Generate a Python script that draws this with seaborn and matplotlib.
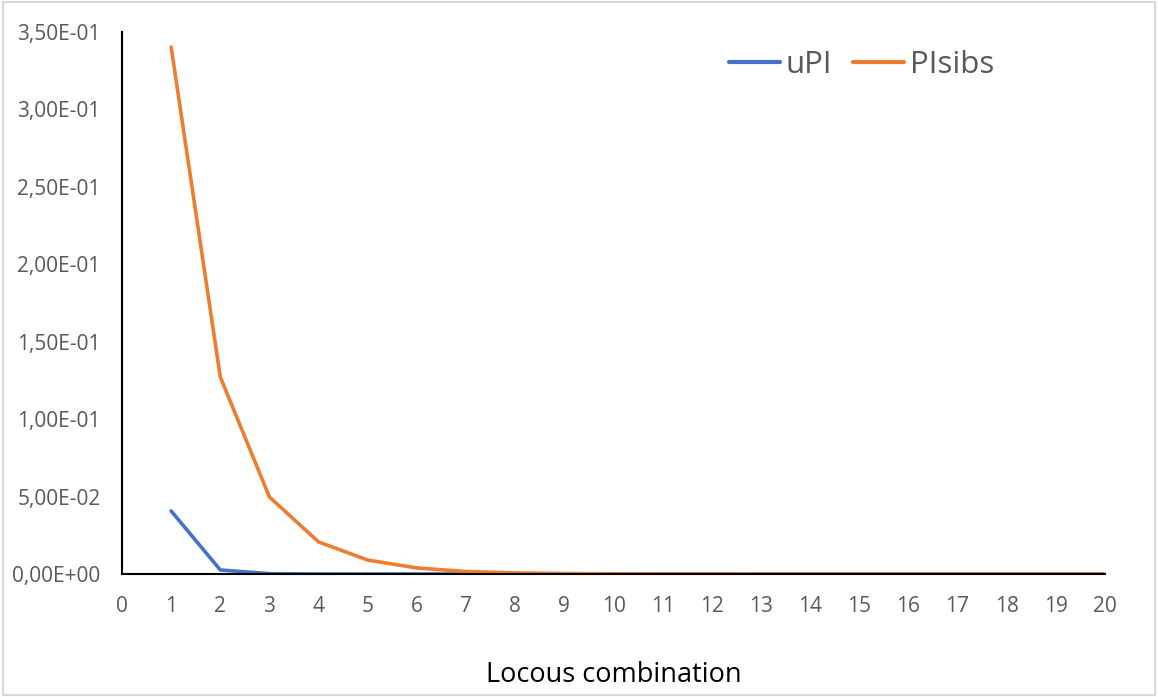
import matplotlib
matplotlib.use("Agg")
import matplotlib.pyplot as plt
import matplotlib.ticker as mticker
import seaborn as sns
import pandas as pd

loci = list(range(1, 21))
upi = [0.0407, 0.0026, 0.0002, 0.00002, 0.000002, 2e-7, 2e-8, 2e-9, 2e-10, 2e-11,
       2e-12, 2e-13, 2e-14, 2e-15, 2e-16, 2e-17, 2e-18, 2e-19, 2e-20, 2e-21]
pisibs = [0.3403, 0.1272, 0.0497, 0.0207, 0.0090, 0.0039, 0.0016, 0.0007, 0.0003, 0.00012,
          0.00005, 0.00002, 0.000009, 0.000004, 0.0000017, 0.0000007, 0.0000003, 0.00000013,
          0.00000005, 0.00000002]
series_names = ["uPI", "PIsibs"]
colors = ["#4472C4", "#ED7D31"]
x_ticks = list(range(0, 21))
y_ticks = [0.0, 0.05, 0.10, 0.15, 0.20, 0.25, 0.30, 0.35]

df = pd.DataFrame({
    "locus": loci * 2,
    "value": upi + pisibs,
    "series": [series_names[0]] * len(loci) + [series_names[1]] * len(loci),
})

sns.set_style("white")
plt.rcParams["font.family"] = ["Open Sans", "DejaVu Sans"]

fig = plt.figure(figsize=(11.58, 6.97), dpi=100)
ax = fig.add_axes([122 / 1158, 1 - 574 / 697, (1105 - 122) / 1158, (574 - 32) / 697])

sns.lineplot(data=df, x="locus", y="value", hue="series", palette=colors,
             linewidth=2.6, ax=ax, legend=True)

ax.set_xlim(0, 20)
ax.set_ylim(0, 0.35)
ax.set_xticks(x_ticks)
ax.set_yticks(y_ticks)

def sci_comma(v, pos):
    return f"{v:.2E}".replace(".", ",")

ax.yaxis.set_major_formatter(mticker.FuncFormatter(sci_comma))
ax.tick_params(axis="both", which="major", direction="out", length=4.5, width=1.5,
               color="black", labelcolor="#595959", labelsize=15)
ax.tick_params(axis="y", pad=11)
ax.tick_params(axis="x", pad=11)
for side in ["top", "right"]:
    ax.spines[side].set_visible(False)
for side in ["left", "bottom"]:
    ax.spines[side].set_color("black")
    ax.spines[side].set_linewidth(1.5)
ax.set_facecolor("none")

ax.set_xlabel("Locous combination", fontsize=19.5, color="black", labelpad=32)
ax.set_ylabel("")

leg = ax.legend(loc="center right", bbox_to_anchor=(994 / 1158, 1 - 65 / 697),
                bbox_transform=fig.transFigure, ncol=2, frameon=False,
                borderpad=0, borderaxespad=0,
                fontsize=22.5, handlelength=1.64, handletextpad=0.18, columnspacing=0.65)
for t in leg.get_texts():
    t.set_color("#595959")
for h in leg.get_lines():
    h.set_linewidth(3)

border = plt.Rectangle((0.003, 0.003), 0.994, 0.994, transform=fig.transFigure,
                       fill=False, edgecolor="#D9D9D9", linewidth=1.5)
fig.patches.append(border)

fig.savefig("out.png", dpi=100)
